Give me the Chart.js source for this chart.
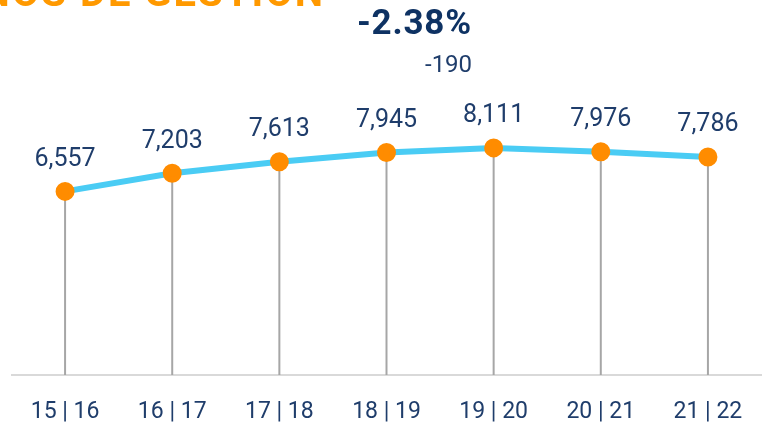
<!DOCTYPE html>
<html>
<head>
<meta charset="utf-8">
<script src="https://cdn.jsdelivr.net/npm/chart.js@4.4.0/dist/chart.umd.min.js"></script>
<style>
    html, body { margin: 0; padding: 0; background: #fff; }
    #wrap { position: relative; width: 768px; height: 427px; overflow: hidden; font-family: Roboto, sans-serif; }
    #chart { position: absolute; left: 0; top: 0; }
    .title { position: absolute; right: 443px; top: -31px; font: bold 40px Roboto, sans-serif; color: #ff9900; white-space: nowrap; letter-spacing: 2px; }
    .pct { position: absolute; left: 357px; top: 2px; font: bold 35px Roboto, sans-serif; color: #0e3263; letter-spacing: 0.8px; }
    .diff { position: absolute; left: 425px; top: 50px; font: 24px Roboto, sans-serif; color: #1f3d6b; }
</style>
</head>
<body>
<div id="wrap">
    <canvas id="chart" width="768" height="427"></canvas>
    <div class="title">ALUMNOS DE GESTIÓN</div>
    <div class="pct">-2.38%</div>
    <div class="diff">-190</div>
</div>
<script>
// chart data
const labels = ['15 | 16', '16 | 17', '17 | 18', '18 | 19', '19 | 20', '20 | 21', '21 | 22'];
const values = [6557, 7203, 7613, 7945, 8111, 7976, 7786];

// grey lines from each point down to the axis
const dropLines = {
    id: 'dropLines',
    beforeDatasetsDraw(chart) {
        const { ctx, chartArea, scales } = chart;
        ctx.save();
        ctx.strokeStyle = '#a6a6a6';
        ctx.lineWidth = 2;
        values.forEach((v, i) => {
            const x = scales.x.getPixelForValue(i);
            ctx.beginPath();
            ctx.moveTo(x, scales.y.getPixelForValue(v));
            ctx.lineTo(x, chartArea.bottom);
            ctx.stroke();
        });
        ctx.restore();
    }
};

// value labels above the points
const valueLabels = {
    id: 'valueLabels',
    afterDatasetsDraw(chart) {
        const { ctx, scales } = chart;
        ctx.save();
        ctx.font = '25px Roboto, sans-serif';
        ctx.fillStyle = '#1f3d6b';
        ctx.textAlign = 'center';
        ctx.textBaseline = 'middle';
        values.forEach((v, i) => {
            const x = scales.x.getPixelForValue(i);
            const y = scales.y.getPixelForValue(v);
            ctx.fillText(v.toLocaleString('en-US'), x, y - 32);
        });
        ctx.restore();
    }
};

new Chart(document.getElementById('chart'), {
    type: 'line',
    data: {
        labels: labels,
        datasets: [{
            data: values,
            borderColor: '#4accf4',
            borderWidth: 6,
            pointBackgroundColor: '#ff8c00',
            pointBorderColor: '#ff8c00',
            pointRadius: 6.5,
            tension: 0
        }]
    },
    options: {
        responsive: false,
        animation: false,
        layout: {
            autoPadding: false,
            padding: { left: 11.5, right: 6.5, top: 95, bottom: 0 }
        },
        plugins: {
            legend: { display: false },
            tooltip: { enabled: false }
        },
        scales: {
            x: {
                offset: true,
                grid: { display: false, drawTicks: false },
                border: { display: true, color: '#d9d9d9', width: 2 },
                ticks: {
                    padding: 23,
                    maxRotation: 0,
                    color: '#1f3d6b',
                    font: { family: 'Roboto', size: 23 }
                },
                afterFit(scale) {
                    scale.height = 52;
                    scale.paddingLeft = 0;
                    scale.paddingRight = 0;
                }
            },
            y: {
                display: false,
                min: 0,
                max: 10000
            }
        }
    },
    plugins: [dropLines, valueLabels]
});
</script>
</body>
</html>
